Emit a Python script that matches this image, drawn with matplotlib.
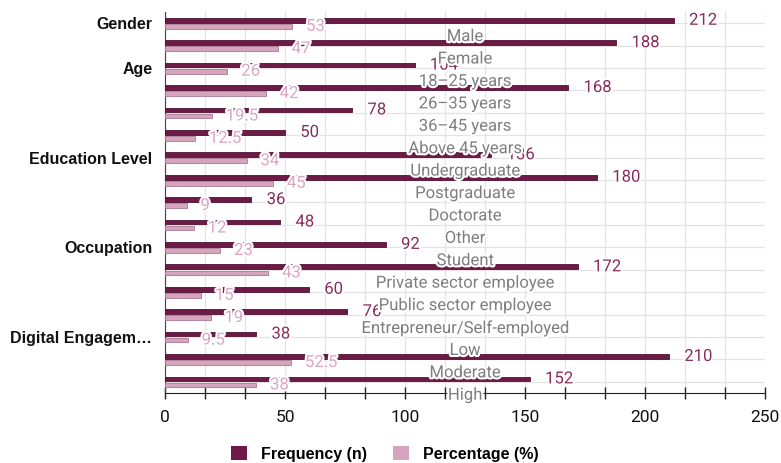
import matplotlib
matplotlib.use("Agg")
import matplotlib.pyplot as plt
import matplotlib.patheffects as pe
from matplotlib.patches import Patch
from matplotlib.ticker import MultipleLocator
import numpy as np

groups = ["Gender", "Age", "Education Level", "Occupation", "Digital Engagem\u2026"]
group_rows = [0, 2, 6, 10, 14]
subcategories = [
    "Male", "Female",
    "18\u201325 years", "26\u201335 years", "36\u201345 years", "Above 45 years",
    "Undergraduate", "Postgraduate", "Doctorate", "Other",
    "Student", "Private sector employee", "Public sector employee", "Entrepreneur/Self-employed",
    "Low", "Moderate", "High",
]
frequency = [212, 188, 104, 168, 78, 50, 136, 180, 36, 48, 92, 172, 60, 76, 38, 210, 152]
percentage = [53, 47, 26, 42, 19.5, 12.5, 34, 45, 9, 12, 23, 43, 15, 19, 9.5, 52.5, 38]

FREQ_COLOR = "#6e1a47"
PCT_COLOR = "#d6a4bd"
FREQ_TEXT = "#8a2b5b"
PCT_TEXT = "#dba6c1"
LABEL_GRAY = "#7f7f7f"

plt.rcParams["font.family"] = ["Roboto", "DejaVu Sans"]

fig = plt.figure(figsize=(7.81, 4.63), dpi=100)
ax = fig.add_axes([165 / 781, 1 - 393 / 463, 600 / 781, 381 / 463])

rows = np.arange(len(frequency))
bar_h = 0.21
ax.barh(rows - 0.13, frequency, height=bar_h, color=FREQ_COLOR,
        edgecolor="#4f1132", linewidth=0.6, zorder=3)
ax.barh(rows + 0.14, percentage, height=bar_h, color=PCT_COLOR,
        edgecolor="#a87890", linewidth=0.6, zorder=3)

# value labels with a white halo, the category names sit on top of them
halo = [pe.withStroke(linewidth=3, foreground="white")]
for r, f, p in zip(rows, frequency, percentage):
    ax.annotate(str(f), (f, r - 0.13), xytext=(11, 0), textcoords="offset points",
                ha="left", va="center", fontsize=12, color=FREQ_TEXT,
                path_effects=halo, zorder=5)
    ax.annotate(f"{p:g}", (p, r + 0.14), xytext=(10, 0), textcoords="offset points",
                ha="left", va="center", fontsize=12, color=PCT_TEXT,
                path_effects=halo, zorder=5)

for r, name in zip(rows, subcategories):
    ax.text(125, r + 0.6, name, ha="center", va="center", fontsize=12,
            color=LABEL_GRAY, path_effects=halo, zorder=6)

ax.set_xlim(0, 250)
ax.set_ylim(16.5, -0.5)
ax.xaxis.set_major_locator(MultipleLocator(50))
ax.xaxis.set_minor_locator(MultipleLocator(50 / 3))
ax.set_yticks(rows, minor=True)
ax.set_yticks(group_rows)
ax.set_yticklabels(groups, fontsize=11.5, fontweight="bold",
                   fontfamily=["Liberation Sans", "DejaVu Sans"], color="#111111")
ax.tick_params(axis="y", which="both", length=0, pad=9)
ax.tick_params(axis="x", which="both", direction="inout", length=8, width=1,
               color="#222222", labelsize=12.5, pad=8, labelcolor="#111111")
ax.grid(True, which="both", axis="both", color="#e3e3e3", linewidth=0.9, zorder=0)
ax.set_axisbelow(True)

for side in ["top", "right"]:
    ax.spines[side].set_visible(False)
ax.spines["bottom"].set_color("#222222")
ax.spines["left"].set_color("#444444")

handles = [Patch(facecolor=FREQ_COLOR, edgecolor="none", label="Frequency (n)"),
           Patch(facecolor=PCT_COLOR, edgecolor="none", label="Percentage (%)")]
fig.legend(handles=handles, loc="center", bbox_to_anchor=(0.493, 0.02), ncol=2,
           frameon=False, handlelength=1.0, handleheight=1.0, columnspacing=1.6,
           handletextpad=0.9,
           prop={"family": ["Liberation Sans", "DejaVu Sans"], "weight": "bold", "size": 11.5})

fig.savefig("out.png", dpi=100)
